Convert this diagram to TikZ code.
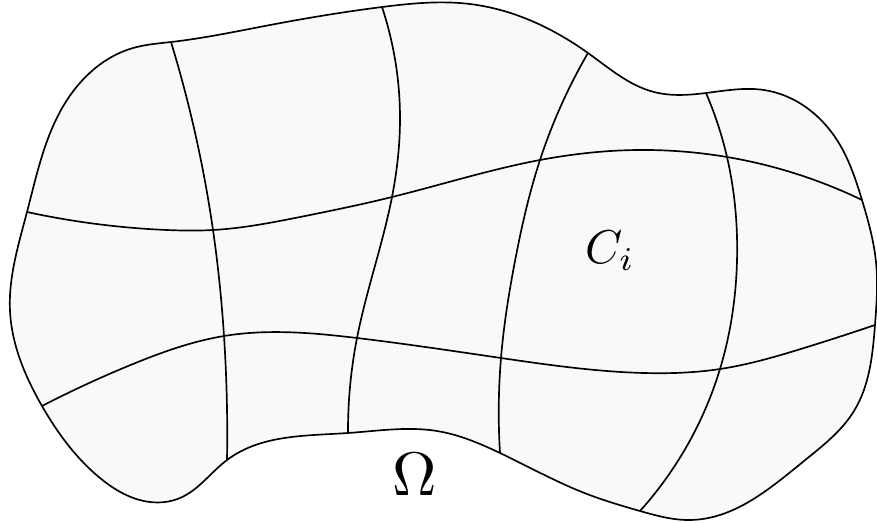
\documentclass[tikz,border=0pt]{standalone}
\usepackage{tikz}
\usetikzlibrary{hobby}
\definecolor{omfill}{RGB}{249,249,249}

\begin{document}
\begin{tikzpicture}[
  x=0.02cm, y=-0.02cm,
  use Hobby shortcut,
  omegaregion/.style={draw=black, fill=omfill, line width=0.95pt},
  meshline/.style={draw=black, line width=0.95pt},
  lbl/.style={inner sep=0pt}
]
\useasboundingbox (0,0) rectangle (877,522);

\coordinate (T1) at (171,42);
\coordinate (T2) at (382,7);
\coordinate (T3) at (588,53);
\coordinate (T4) at (706,93);
\coordinate (R1) at (862,200);
\coordinate (R2) at (875,325);
\coordinate (E4) at (640,511);
\coordinate (E3) at (500,453);
\coordinate (E2) at (348,433);
\coordinate (E1) at (227,460);
\coordinate (L2) at (42,406);
\coordinate (L1) at (27,212);

\coordinate (A1) at (213,230);
\coordinate (A2) at (392,197);
\coordinate (A3) at (540,160);
\coordinate (A4) at (727,157);
\coordinate (B1) at (224,336);
\coordinate (B2) at (357,338);
\coordinate (B3) at (501,358);
\coordinate (B4) at (720,369);

\path[omegaregion, closed=true] (T1) .. (270,25) .. (T2) .. (470,4) .. (T3) .. (654,92) .. (T4) .. (764,90) .. (837,140) .. (R1) .. (876,262) .. (R2) .. (854,411) .. (804,461) .. (690,520) .. (E4) .. (587,494) .. (E3) .. (437,431) .. (E2) .. (E1) .. (180,498) .. (150,502) .. (100,478) .. (L2) .. (10,311) .. (L1) .. (67,100) .. (133,48);

\draw[meshline] (L1) .. (167,230) .. (A1) .. (300,217) .. (A2) .. (A3) .. (637,150) .. (A4) .. (R1);
\draw[meshline] (L2) .. (133,364) .. (B1) .. (B2) .. (B3) .. (644,373) .. (B4) .. (804,348) .. (R2);

\draw[meshline] (T1) .. (A1) .. (B1) .. (E1);
\draw[meshline] (T2) .. (400,117) .. (A2) .. (B2) .. (E2);
\draw[meshline] (T3) .. (A3) .. (515,261) .. (B3) .. (E3);
\draw[meshline] (T4) .. (A4) .. (737,261) .. (B4) .. (E4);

\node[lbl, scale=2.7] (ci) at (610,251) {$C_i$};
\node[lbl, scale=3.5] (om) at (415,474) {$\Omega$};
\end{tikzpicture}
\end{document}
